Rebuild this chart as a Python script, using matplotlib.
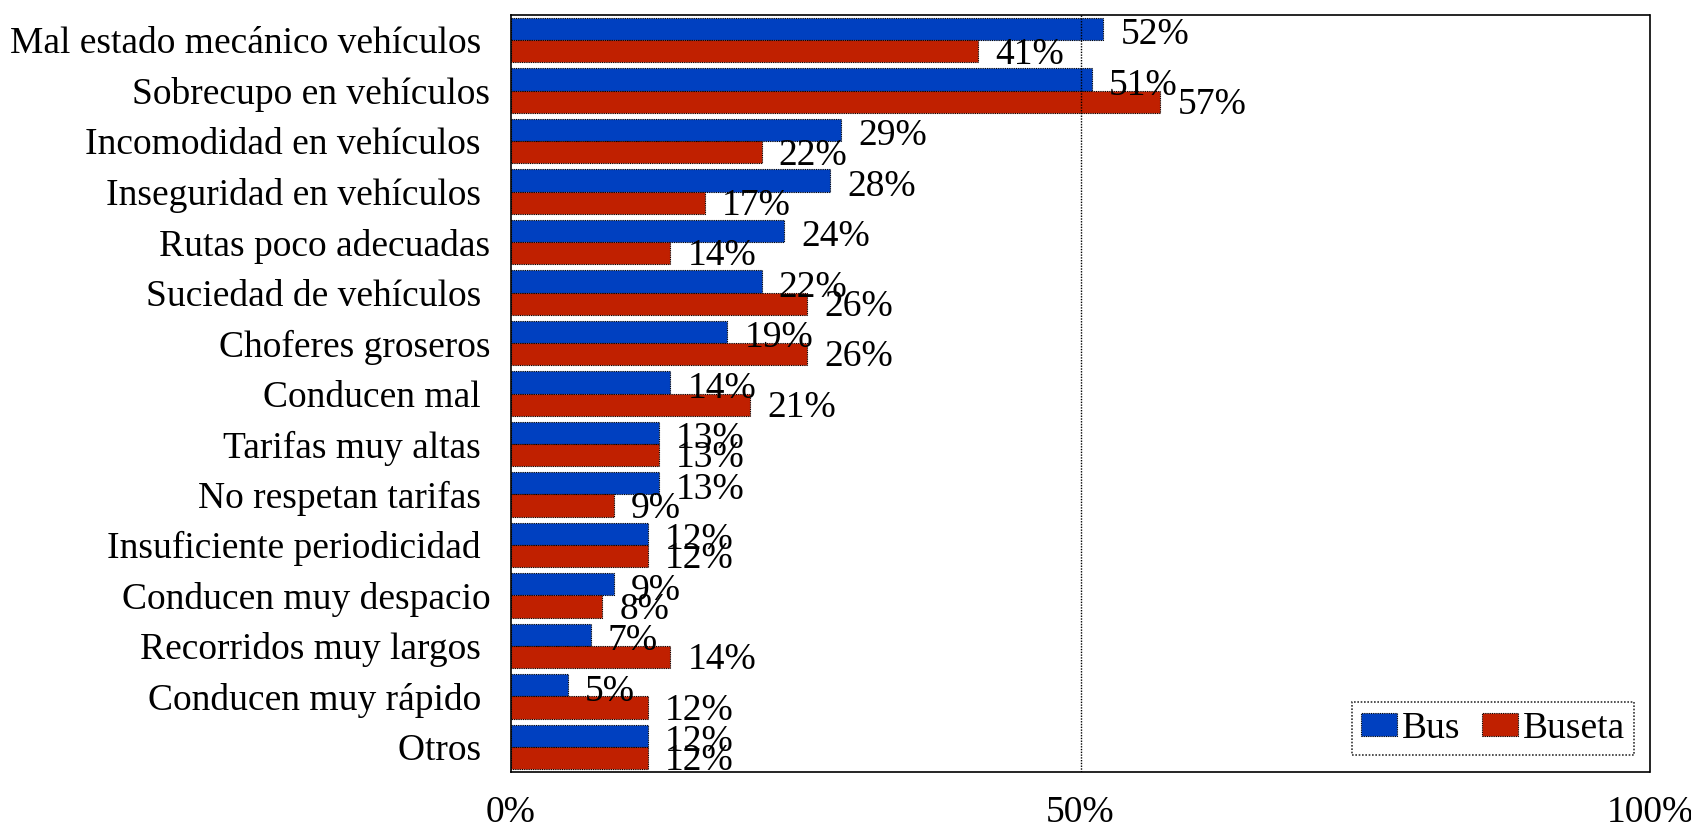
import numpy as np
import matplotlib
matplotlib.use("Agg")
import matplotlib.pyplot as plt

# Datos: problemas del transporte publico, % de menciones
categorias = [
    "Mal estado mecánico vehículos ",
    "Sobrecupo en vehículos",
    "Incomodidad en vehículos ",
    "Inseguridad en vehículos ",
    "Rutas poco adecuadas",
    "Suciedad de vehículos ",
    "Choferes groseros",
    "Conducen mal ",
    "Tarifas muy altas ",
    "No respetan tarifas ",
    "Insuficiente periodicidad ",
    "Conducen muy despacio",
    "Recorridos muy largos ",
    "Conducen muy rápido ",
    "Otros ",
]
bus = [52, 51, 29, 28, 24, 22, 19, 14, 13, 13, 12, 9, 7, 5, 12]
buseta = [41, 57, 22, 17, 14, 26, 26, 21, 13, 9, 12, 8, 14, 12, 12]
xticks = [0, 50, 100]

plt.rcParams['font.family'] = ['Liberation Serif', 'DejaVu Serif']
FS = 27

fig = plt.figure(figsize=(16.91, 8.27), dpi=100)
ax = fig.add_axes([511 / 1691, 1 - 772 / 827, (1650 - 511) / 1691, (772 - 15) / 827])

y = np.arange(len(categorias))
h = 0.44
blue = '#0040C0'
red = '#C02000'

b1 = ax.barh(y - h / 2, bus, h, color=blue, edgecolor='black', linewidth=0.8,
             linestyle=(0, (1, 1)), label='Bus')
b2 = ax.barh(y + h / 2, buseta, h, color=red, edgecolor='black', linewidth=0.8,
             linestyle=(0, (1, 1)), label='Buseta')

# etiquetas de valor (se solapan como en el original)
for yi, v in zip(y, bus):
    ax.text(v + 1.5, yi - h / 2 + 0.12, f'{v}%', va='center', ha='left', fontsize=FS)
for yi, v in zip(y, buseta):
    ax.text(v + 1.5, yi + h / 2 + 0.06, f'{v}%', va='center', ha='left', fontsize=FS)

ax.set_xlim(0, 100)
ax.set_ylim(len(categorias) - 0.5, -0.5)
ax.axvline(50, color='black', linewidth=1, linestyle=(0, (1, 1)))

ax.set_yticks(y)
ax.set_yticklabels(categorias, fontsize=FS)
ax.set_xticks(xticks)
ax.set_xticklabels([f'{t}%' for t in xticks], fontsize=FS)
ax.tick_params(axis='both', length=0)
ax.tick_params(axis='y', pad=15)
ax.tick_params(axis='x', pad=17)

for s in ax.spines.values():
    s.set_linestyle((0, (1, 1)))
    s.set_linewidth(1.2)
    s.set_color('black')

leg = ax.legend(loc='lower right', ncol=2, fontsize=FS, frameon=True, fancybox=False,
                handlelength=0.95, handleheight=0.55, handletextpad=0.12, columnspacing=0.6,
                borderpad=0.25, borderaxespad=0.0, bbox_to_anchor=(0.986, 0.022))
leg.get_frame().set_edgecolor('black')
leg.get_frame().set_linestyle((0, (1, 1)))
leg.get_frame().set_linewidth(1.2)

fig.savefig('out.png', dpi=100)
